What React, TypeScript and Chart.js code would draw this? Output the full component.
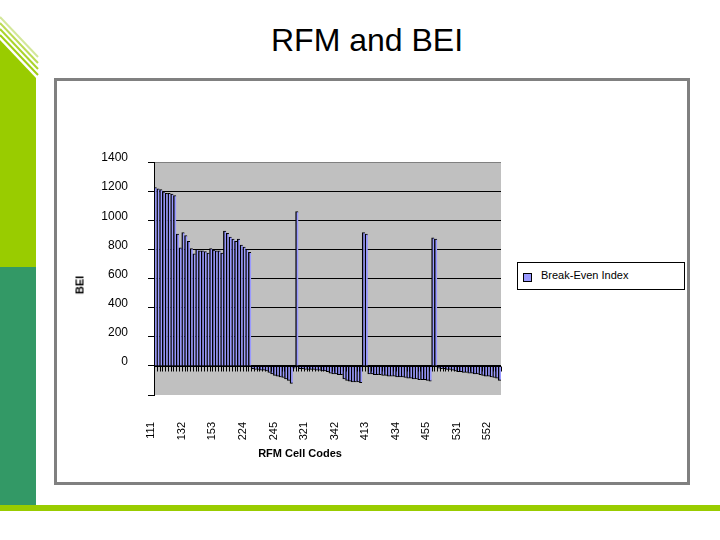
import React, { useEffect, useRef } from 'react';
import { Chart, registerables } from 'chart.js';

Chart.register(...registerables);

// RFM cell codes (categories)
const categories = [
  '111','112','113','114','115','121','122','123','124','125','131','132','133','134','135','141','142','143','144','145','151','152','153','154','155',
  '211','212','213','214','215','221','222','223','224','225','231','232','233','234','235','241','242','243','244','245','251','252','253','254','255',
  '311','312','313','314','315','321','322','323','324','325','331','332','333','334','335','341','342','343','344','345','351','352','353','354','355',
  '411','412','413','414','415','421','422','423','424','425','431','432','433','434','435','441','442','443','444','445','451','452','453','454','455',
  '511','512','513','514','515','521','522','523','524','525','531','532','533','534','535','541','542','543','544','545','551','552','553','554','555',
];

// Break-Even Index per cell
const beiValues = [
  1225, 1215, 1210, 1195, 1185, 1185, 1180, 1170, 905, 810, 915, 895, 855, 805, 770, 800, 790, 790, 785, 775, 805, 795, 790, 790, 775,
  925, 910, 885, 870, 855, 870, 830, 815, 800, 780, -20, -25, -25, -30, -30, -35, -45, -55, -65, -70, -75, -80, -90, -100, -120,
  -15, 1060, -20, -20, -25, -25, -25, -25, -30, -30, -35, -35, -40, -50, -55, -55, -60, -60, -90, -100, -105, -110, -110, -110, -115,
  915, 905, -55, -55, -60, -60, -60, -65, -65, -70, -70, -70, -75, -75, -75, -80, -85, -85, -90, -90, -95, -95, -95, -100, -105,
  880, 870, -15, -20, -20, -25, -25, -30, -35, -40, -40, -45, -45, -50, -50, -55, -55, -60, -65, -70, -70, -75, -80, -85, -100,
];

// Category labels that are printed on the axis
const shownTickLabels = ['111', '132', '153', '224', '245', '321', '342', '413', '434', '455', '531', '552'];
// Value-axis ticks
const yMin = -200;
const yMax = 1400;
const yStep = 200;
const hiddenYTickLabels = [-200];

const seriesName = 'Break-Even Index';
const chartTitle = 'RFM and BEI';
const xAxisTitle = 'RFM Cell Codes';
const yAxisTitle = 'BEI';

const FONT = "'Liberation Sans', Arial, Helvetica, sans-serif";
const BAR_FILL = '#9999ff';

const plotBackground = {
  id: 'plotBackground',
  beforeDraw(chart: any) {
    const { ctx, chartArea: a } = chart;
    ctx.save();
    ctx.fillStyle = '#c0c0c0';
    ctx.fillRect(a.left, a.top, a.right - a.left, a.bottom - a.top);
    ctx.restore();
  },
};

const zeroAxis = {
  id: 'zeroAxis',
  afterDatasetsDraw(chart: any) {
    const { ctx, chartArea: a, scales } = chart;
    const y0 = Math.round(scales.y.getPixelForValue(0)) + 0.5;
    const n = chart.data.labels.length;
    ctx.save();
    ctx.strokeStyle = '#000';
    ctx.lineWidth = 1;
    ctx.beginPath();
    ctx.moveTo(a.left, y0);
    ctx.lineTo(a.right, y0);
    for (let i = 0; i <= n; i++) {
      const x = Math.round(a.left + ((a.right - a.left) * i) / n) + 0.5;
      ctx.moveTo(x, y0);
      ctx.lineTo(x, y0 + 5);
    }
    ctx.stroke();
    ctx.restore();
  },
};

function BeiChart() {
  const ref = useRef<HTMLCanvasElement | null>(null);
  useEffect(() => {
    if (!ref.current) return;
    const chart = new Chart(ref.current, {
      type: 'bar',
      data: {
        labels: categories,
        datasets: [
          {
            label: seriesName,
            data: beiValues,
            backgroundColor: BAR_FILL,
            borderColor: '#000',
            borderWidth: { top: 1, bottom: 1, left: 1.75, right: 0 } as any,
            barPercentage: 1,
            categoryPercentage: 1,
          },
        ],
      },
      options: {
        responsive: false,
        animation: false,
        devicePixelRatio: 1,
        layout: { padding: { top: 80, right: 186, left: 0, bottom: 0 } },
        plugins: {
          legend: { display: false },
          tooltip: { enabled: false },
          title: { display: false },
        },
        scales: {
          x: {
            grid: { display: false, drawTicks: false },
            border: { display: false },
            ticks: {
              autoSkip: false,
              minRotation: 90,
              maxRotation: 90,
              padding: 27,
              labelOffset: -4,
              color: '#000',
              font: { family: FONT, size: 11 },
              callback: (_v: any, index: number) =>
                shownTickLabels.includes(categories[index]) ? categories[index] : '',
            },
            afterFit: (scale: any) => {
              scale.height = 86;
            },
          },
          y: {
            min: yMin,
            max: yMax,
            ticks: {
              stepSize: yStep,
              padding: 20,
              labelOffset: -4,
              color: '#000',
              font: { family: FONT, size: 12 },
              callback: (v: any) => (hiddenYTickLabels.includes(Number(v)) ? '' : String(v)),
            },
            grid: {
              color: (c: any) =>
                c.tick && c.tick.value === yMax
                  ? '#808080'
                  : c.tick && c.tick.value === yMin
                  ? 'rgba(0,0,0,0)'
                  : '#000',
              tickColor: '#000',
              tickLength: 6,
              lineWidth: 1,
            },
            border: { display: true, color: '#000' },
            afterFit: (scale: any) => {
              scale.width = 97;
            },
          },
        },
      },
      plugins: [plotBackground, zeroAxis],
    });
    return () => chart.destroy();
  }, []);
  return (
    <canvas
      ref={ref}
      width={630}
      height={399}
      style={{ position: 'absolute', left: 57, top: 82, width: 630, height: 399 }}
    />
  );
}

export default function App() {
  return (
    <div
      style={{
        position: 'absolute',
        left: 0,
        top: 0,
        width: 720,
        height: 540,
        background: '#fff',
        overflow: 'hidden',
        fontFamily: FONT,
      }}
    >
      <svg width={720} height={540} style={{ position: 'absolute', left: 0, top: 0 }}>
        <line x1={0} y1={17} x2={38} y2={57} stroke="#d3e79a" strokeWidth={2} />
        <line x1={0} y1={23} x2={38} y2={63} stroke="#bcdb55" strokeWidth={2} />
        <line x1={0} y1={29} x2={38} y2={69} stroke="#aad42c" strokeWidth={2} />
        <line x1={0} y1={35} x2={38} y2={75} stroke="#a0cf14" strokeWidth={2} />
        <polygon points="0,40 36,78 36,267 0,267" fill="#99cc00" />
        <rect x={0} y={267} width={36} height={239} fill="#339966" />
        <rect x={0} y={505} width={720} height={6} fill="#99cc00" />
        <rect x={55.5} y={79.5} width={633} height={404} fill="#fff" stroke="#808080" strokeWidth={3} />
      </svg>
      <div
        style={{
          position: 'absolute',
          left: 367,
          top: 24,
          transform: 'translateX(-50%)',
          fontSize: 32,
          lineHeight: '32px',
          whiteSpace: 'nowrap',
          color: '#000',
        }}
      >
        {chartTitle}
      </div>
      <BeiChart />
      <div
        style={{
          position: 'absolute',
          left: 80,
          top: 285,
          transform: 'translate(-50%, -50%) rotate(-90deg)',
          fontSize: 11,
          fontWeight: 'bold',
          lineHeight: '11px',
          whiteSpace: 'nowrap',
        }}
      >
        {yAxisTitle}
      </div>
      <div
        style={{
          position: 'absolute',
          left: 300,
          top: 453,
          transform: 'translate(-50%, -50%)',
          fontSize: 11,
          fontWeight: 'bold',
          lineHeight: '11px',
          whiteSpace: 'nowrap',
        }}
      >
        {xAxisTitle}
      </div>
      <div
        style={{
          position: 'absolute',
          left: 517,
          top: 262,
          width: 168,
          height: 28,
          boxSizing: 'border-box',
          border: '1px solid #000',
          background: '#fff',
        }}
      >
        <div
          style={{
            position: 'absolute',
            left: 5,
            top: 10,
            width: 9,
            height: 9,
            boxSizing: 'border-box',
            border: '1px solid #000',
            background: BAR_FILL,
          }}
        />
        <div
          style={{
            position: 'absolute',
            left: 23,
            top: 7,
            fontSize: 11,
            lineHeight: '11px',
            whiteSpace: 'nowrap',
          }}
        >
          {seriesName}
        </div>
      </div>
    </div>
  );
}
